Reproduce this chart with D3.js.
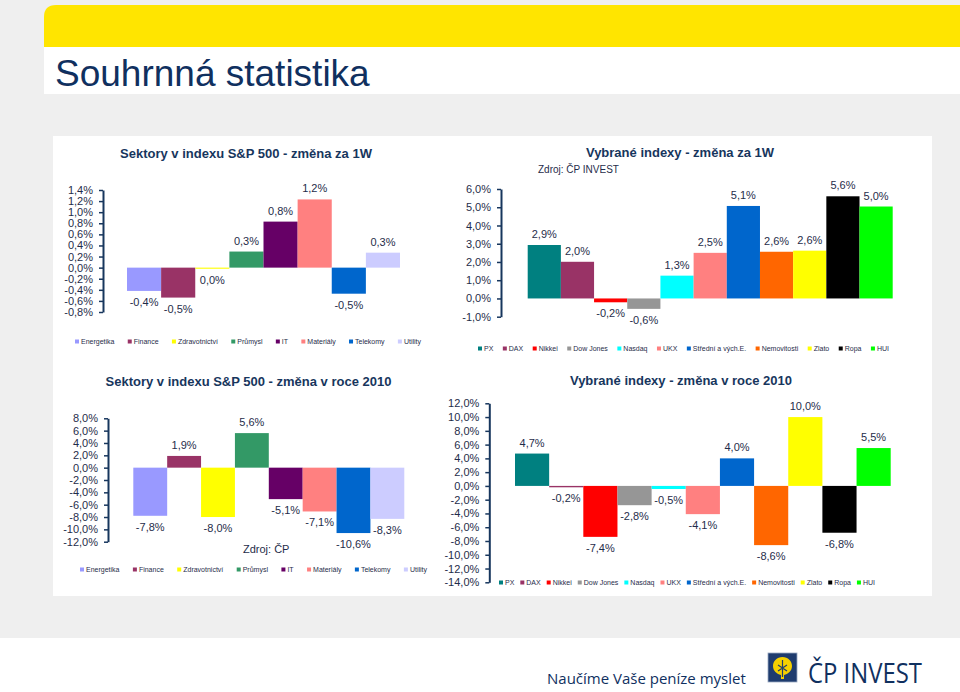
<!DOCTYPE html>
<html>
<head>
<meta charset="utf-8">
<script src="https://cdn.jsdelivr.net/npm/d3@7"></script>
<style>
  html, body { margin: 0; padding: 0; background: #efefef; }
  svg { display: block; }
  text { font-family: "Liberation Sans", Arial, sans-serif; }
</style>
</head>
<body>
<svg id="slide" width="960" height="692"></svg>
<script>
// ---------- DATA ----------
const sectors = ["Energetika", "Finance", "Zdravotnictví", "Průmysl", "IT", "Materiály", "Telekomy", "Utility"];
const sectors1W = [-0.42, -0.54, -0.02, 0.29, 0.83, 1.23, -0.47, 0.27];
const sectors2010 = [-7.8, 1.9, -8.0, 5.6, -5.1, -7.1, -10.6, -8.3];

const indices = ["PX", "DAX", "Nikkei", "Dow Jones", "Nasdaq", "UKX", "Střední a vých.E.", "Nemovitosti", "Zlato", "Ropa", "HUI"];
const indices1W = [2.93, 2.01, -0.21, -0.57, 1.25, 2.5, 5.07, 2.56, 2.62, 5.6, 5.04];
const indices2010 = [4.7, -0.2, -7.4, -2.8, -0.45, -4.1, 4.0, -8.6, 10.0, -6.8, 5.5];

const ticksSectors1W = [1.4, 1.2, 1.0, 0.8, 0.6, 0.4, 0.2, 0.0, -0.2, -0.4, -0.6, -0.8];
const ticksIndices1W = [6, 5, 4, 3, 2, 1, 0, -1];
const ticksSectors2010 = [8, 6, 4, 2, 0, -2, -4, -6, -8, -10, -12];
const ticksIndices2010 = [12, 10, 8, 6, 4, 2, 0, -2, -4, -6, -8, -10, -12, -14];

// ---------- STYLES ----------
const sectorColors = ["#9999ff", "#993366", "#ffff00", "#339966", "#660066", "#ff8080", "#0066cc", "#ccccff"];
const indexColors = ["#008080", "#993366", "#ff0000", "#969696", "#00ffff", "#ff8080", "#0066cc", "#ff6600", "#ffff00", "#000000", "#00ff00"];
const navy = "#17365d";
const textCol = "#1f2d4a";

const locale = d3.formatLocale({decimal: ",", thousands: " ", grouping: [3], currency: ["", " Kč"], minus: "-"});
const f1 = locale.format(".1f");
const pct = v => f1(v) + "%";

const svg = d3.select("#slide");

// ---------- SLIDE BACKGROUND ----------
svg.append("rect").attr("x", 0).attr("y", 0).attr("width", 960).attr("height", 692).attr("fill", "#efefef");
svg.append("path")
  .attr("d", "M44,47 L44,17 Q44,5 56,5 L960,5 L960,47 Z")
  .attr("fill", "#ffe500");
svg.append("rect").attr("x", 44).attr("y", 47).attr("width", 916).attr("height", 47).attr("fill", "#ffffff");
svg.append("text").attr("x", 55).attr("y", 86).attr("font-size", 37).attr("fill", "#10305f")
  .text("Souhrnná statistika");

svg.append("rect").attr("x", 53).attr("y", 136).attr("width", 879).attr("height", 460).attr("fill", "#ffffff");

// footer
svg.append("rect").attr("x", 0).attr("y", 638).attr("width", 960).attr("height", 54).attr("fill", "#ffffff");
svg.append("text").attr("x", 547).attr("y", 684).attr("font-size", 15)
  .style("font-family", "'Open Sans', sans-serif").attr("fill", "#10305f")
  .text("Naučíme Vaše peníze myslet");
const logo = svg.append("g").attr("transform", "translate(768,653)");
logo.append("rect").attr("width", 29).attr("height", 29).attr("fill", "#1f3c6e").attr("stroke", "#9aa8c0").attr("stroke-width", 0.8);
logo.append("path")
  .attr("d", "M14.5,4 C9,4 5,8 5,13 C5,18 9,21 13,22 L13,26 L16,26 L16,22 C20,21 24,18 24,13 C24,8 20,4 14.5,4 Z")
  .attr("fill", "#f5d000");
logo.append("path").attr("d", "M14.5,7 L14.5,24 M10,12 L19,18 M19,12 L10,18")
  .attr("stroke", "#1f3c6e").attr("stroke-width", 1.2).attr("fill", "none");
svg.append("text").attr("x", 808).attr("y", 683).attr("font-size", 28)
  .attr("textLength", 114).attr("lengthAdjust", "spacingAndGlyphs")
  .style("font-family", "'Open Sans', sans-serif").attr("fill", "#10305f")
  .text("ČP INVEST");

// ---------- CHART FUNCTION ----------
function drawChart(cfg) {
  const g = svg.append("g");
  const y = d3.scaleLinear()
    .domain([cfg.ticks[0], cfg.ticks[cfg.ticks.length - 1]])
    .range([cfg.yTop, cfg.yBottom]);
  const x = d3.scaleBand().domain(cfg.names).range([cfg.barLeft, cfg.barRight]).padding(0);

  // title
  g.append("text").attr("x", cfg.titleX).attr("y", cfg.titleY)
    .attr("text-anchor", "middle").attr("font-size", 13).attr("font-weight", "bold")
    .attr("fill", navy).text(cfg.title);

  // bars
  g.selectAll("rect.bar").data(cfg.values).join("rect")
    .attr("class", "bar")
    .attr("x", (d, i) => x(cfg.names[i]))
    .attr("width", x.bandwidth())
    .attr("y", d => Math.min(y(d), y(0)))
    .attr("height", d => Math.max(Math.abs(y(d) - y(0)), 0.8))
    .attr("fill", (d, i) => cfg.colors[i]);

  // data labels
  g.selectAll("text.lbl").data(cfg.values).join("text")
    .attr("class", "lbl")
    .attr("x", (d, i) => x(cfg.names[i]) + x.bandwidth() / 2)
    .attr("y", d => d > 0 ? y(d) - 7 : y(Math.min(d, 0)) + 15)
    .attr("text-anchor", "middle").attr("font-size", 11).attr("fill", textCol)
    .text(d => pct(d));

  // axis
  const axis = d3.axisLeft(y).tickValues(cfg.ticks).tickFormat(pct)
    .tickSize(4).tickSizeOuter(0).tickPadding(6);
  const ag = g.append("g").attr("transform", `translate(${cfg.axisX},0)`).call(axis);
  ag.select(".domain").attr("stroke", navy).attr("stroke-width", 2);
  ag.selectAll(".tick line").attr("stroke", navy).attr("stroke-width", 1.5);
  ag.selectAll(".tick text").attr("font-size", 11).attr("fill", textCol)
    .style("font-family", "'Liberation Sans', Arial, sans-serif");

  // legend
  const lg = g.append("g");
  const items = lg.selectAll("g").data(cfg.names).join("g");
  items.append("rect").attr("width", 4).attr("height", 4).attr("y", -4.5)
    .attr("fill", (d, i) => cfg.colors[i]);
  items.append("text").attr("x", 6).attr("font-size", 7).attr("fill", textCol).text(d => d);
  const widths = [];
  items.each(function () {
    widths.push(6 + d3.select(this).select("text").node().getComputedTextLength());
  });
  const total = d3.sum(widths);
  const gap = (cfg.legEnd - cfg.legStart - total) / (cfg.names.length - 1);
  let cx = cfg.legStart;
  items.attr("transform", (d, i) => {
    const t = `translate(${cx},${cfg.legY})`;
    cx += widths[i] + gap;
    return t;
  });
  return g;
}

drawChart({
  title: "Sektory v indexu S&P 500 - změna za 1W", titleX: 246, titleY: 158,
  names: sectors, values: sectors1W, colors: sectorColors, ticks: ticksSectors1W,
  yTop: 190, yBottom: 312, axisX: 103, barLeft: 127, barRight: 400,
  legStart: 75, legEnd: 421, legY: 344
});

const c2 = drawChart({
  title: "Vybrané indexy - změna za 1W", titleX: 680, titleY: 157,
  names: indices, values: indices1W, colors: indexColors, ticks: ticksIndices1W,
  yTop: 189, yBottom: 316.7, axisX: 501, barLeft: 527.7, barRight: 892.7,
  legStart: 478, legEnd: 889, legY: 351
});
c2.append("text").attr("x", 538).attr("y", 173).attr("font-size", 10).attr("fill", textCol)
  .text("Zdroj: ČP INVEST");

const c3 = drawChart({
  title: "Sektory v indexu S&P 500 - změna v roce 2010", titleX: 248.5, titleY: 386,
  names: sectors, values: sectors2010, colors: sectorColors, ticks: ticksSectors2010,
  yTop: 418.3, yBottom: 541.7, axisX: 108, barLeft: 133.3, barRight: 404.3,
  legStart: 80, legEnd: 427, legY: 572
});
c3.append("text").attr("x", 243).attr("y", 553).attr("font-size", 11).attr("fill", textCol)
  .text("Zdroj: ČP");

drawChart({
  title: "Vybrané indexy - změna v roce 2010", titleX: 681, titleY: 385,
  names: indices, values: indices2010, colors: indexColors, ticks: ticksIndices2010,
  yTop: 403.3, yBottom: 582.3, axisX: 489.3, barLeft: 515, barRight: 890.7,
  legStart: 499, legEnd: 875, legY: 585
});
</script>
</body>
</html>
